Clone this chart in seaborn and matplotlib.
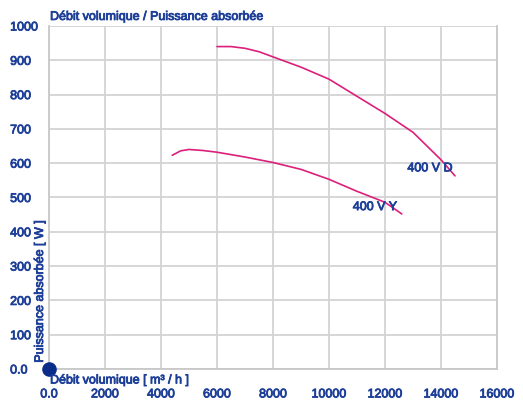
import numpy as np
import pandas as pd
import matplotlib
matplotlib.use("Agg")
import matplotlib.pyplot as plt
import matplotlib.patheffects as pe
import seaborn as sb

# curves
flow_d = [6000, 6500, 7000, 7500, 8000, 9000, 10000, 11000, 12000, 13000, 14000, 14500]
power_d = [940, 940, 935, 925, 910, 880, 845, 795, 745, 690, 610, 563]
flow_y = [4400, 4700, 5000, 5500, 6000, 7000, 8000, 9000, 10000, 11000, 12000, 12600]
power_y = [623, 636, 640, 637, 632, 618, 602, 582, 553, 518, 486, 452]
labels = ["400 V D", "400 V Y"]
label_pos = [(12800, 585), (10850, 472)]

blue = "#1d3f98"
pink = "#dc1f7b"
bold = [pe.withStroke(linewidth=0.6, foreground=blue)]

df = pd.concat([
    pd.DataFrame({"flow": flow_d, "power": power_d, "curve": labels[0]}),
    pd.DataFrame({"flow": flow_y, "power": power_y, "curve": labels[1]}),
])

sb.set_style("white")
plt.rcParams['font.family'] = ['Liberation Sans', 'DejaVu Sans']

fig = plt.figure(figsize=(5.23, 4.03), dpi=100)
ax = fig.add_axes([0.0937, 0.0844, 0.8566, 0.8511])

sb.lineplot(data=df, x="flow", y="power", units="curve", estimator=None,
            color=pink, lw=1.2, ax=ax, legend=False, sort=False)

for txt, (x, y) in zip(labels, label_pos):
    ax.text(x, y, txt, color=blue, fontsize=9, ha="left", va="center",
            path_effects=bold)

ax.set_xlim(0, 16000)
ax.set_ylim(0, 1000)
ax.set_xticks(np.arange(0, 16001, 2000))
ax.set_yticks(np.arange(0, 1001, 100))
ax.set_xticklabels(["0.0"] + [str(v) for v in range(2000, 16001, 2000)])
ax.set_yticklabels(["0.0"] + [str(v) for v in range(100, 1001, 100)])
ax.tick_params(axis="x", length=0, pad=14, labelsize=9, labelcolor=blue)
ax.tick_params(axis="y", length=0, pad=28, labelsize=9, labelcolor=blue)
for t in ax.get_yticklabels():
    t.set_horizontalalignment("left")
    t.set_path_effects(bold)
for t in ax.get_xticklabels():
    t.set_path_effects(bold)
ax.grid(True, color="#d3d3d3", lw=1.3)
ax.spines["top"].set_visible(False)
for s in ["left", "bottom", "right"]:
    ax.spines[s].set_color("#c8c8c8")
    ax.spines[s].set_linewidth(1.3)

ax.set_xlabel("")
ax.set_ylabel("")
ax.plot([0], [0], "o", color="#0b2d8a", ms=9.5, clip_on=False, zorder=5)

fig.text(0.0956, 0.958, "Débit volumique / Puissance absorbée", color=blue,
         fontsize=9, ha="left", va="center", path_effects=bold)
fig.text(0.0956, 0.057, "Débit volumique [ m³ / h ]", color=blue,
         fontsize=9, ha="left", va="center", path_effects=bold)
fig.text(0.0765, 0.10, "Puissance absorbée [ W ]", color=blue, fontsize=9,
         rotation=90, ha="center", va="bottom", path_effects=bold)

fig.savefig("out.png", dpi=100)
